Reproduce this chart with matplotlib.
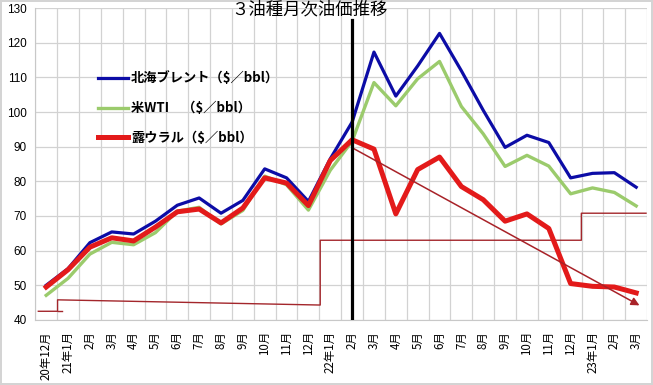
import matplotlib.pyplot as plt
import numpy as np

plt.rcParams['font.family'] = ['Noto Sans CJK JP', 'DejaVu Sans']

# Categories (months)
months = ['20年12月', '21年1月', '2月', '3月', '4月', '5月', '6月', '7月', '8月',
          '9月', '10月', '11月', '12月', '22年1月', '2月', '3月', '4月', '5月',
          '6月', '7月', '8月', '9月', '10月', '11月', '12月', '23年1月', '2月', '3月']

# Monthly prices ($/bbl)
brent = [50.0, 54.8, 62.3, 65.4, 64.8, 68.5, 73.1, 75.2, 70.8, 74.5, 83.6, 81.0,
         74.2, 86.5, 97.1, 117.3, 104.6, 113.3, 122.7, 111.9, 100.5, 89.8, 93.3,
         91.2, 81.0, 82.3, 82.5, 78.3]
wti = [47.1, 52.0, 59.0, 62.4, 61.7, 65.2, 71.4, 72.5, 67.7, 71.6, 81.5, 79.0,
       71.7, 83.2, 91.6, 108.5, 101.8, 109.6, 114.6, 101.6, 93.7, 84.3, 87.5,
       84.4, 76.4, 78.1, 76.8, 72.9]
urals = [49.5, 54.5, 61.0, 63.7, 62.8, 66.8, 71.2, 72.0, 68.0, 72.3, 81.0, 79.5,
         73.0, 86.0, 92.0, 89.3, 70.6, 83.4, 87.0, 78.5, 74.7, 68.5, 70.6, 66.4,
         50.5, 49.7, 49.5, 47.8]

# Hand-drawn step annotation (x in category units, y in $/bbl)
step_x = [-0.36, 0.52, 0.52, 12.54, 12.54, 24.49, 24.49, 27.45]
step_y = [42.5, 42.5, 45.8, 44.3, 63.0, 63.0, 70.8, 70.8]
step_x0 = [0.52, 0.74]
step_y0 = [42.5, 42.5]
trend_start = (14.0, 89.7)
trend_end = (27.15, 44.2)
invasion_x = 14

fig = plt.figure(figsize=(6.53, 3.85), dpi=100)
fig.patch.set_edgecolor('#d4d4d4')
fig.patch.set_linewidth(1.5)
ax = fig.add_axes([0.054, 0.169, 0.937, 0.810])

x = np.arange(len(months))
ax.plot(x, wti, color='#9bcb6c', lw=2.4, zorder=3, label='米WTI　（$／bbl）')
ax.plot(x, brent, color='#0c0ca6', lw=2.3, zorder=4, label='北海ブレント（$／bbl）')
ax.plot(x, urals, color='#e31a1a', lw=3.6, zorder=5, label='露ウラル（$／bbl）')

# annotations
ax.plot(step_x, step_y, color='#a3262b', lw=1.0, zorder=2)
ax.plot(step_x0, step_y0, color='#a3262b', lw=1.0, zorder=2)
ax.annotate('', xy=trend_end, xytext=trend_start,
            arrowprops=dict(arrowstyle='-|>', color='#a82228', lw=1.1,
                            mutation_scale=12, shrinkA=0, shrinkB=0),
            zorder=6)
ax.plot([invasion_x, invasion_x], [40, 126.5], color='black', lw=2.3, zorder=7)

ax.set_xlim(-0.5, len(months) - 0.5)
ax.set_ylim(40, 130)
ax.set_yticks(np.arange(40, 131, 10))
ax.set_xticks(x)
ax.set_xticklabels(months, rotation=90, fontsize=8.3, va='top')
ax.set_xticks(np.arange(-0.5, len(months), 1), minor=True)
ax.tick_params(axis='both', which='both', length=0)
ax.tick_params(axis='y', labelsize=8.5, pad=6)
ax.tick_params(axis='x', pad=8)
for lab in ax.get_yticklabels():
    lab.set_fontfamily('Liberation Sans')

ax.grid(axis='y', which='major', color='#d2d2d2', lw=0.9)
ax.grid(axis='x', which='minor', color='#d2d2d2', lw=0.9)
ax.set_axisbelow(True)
for side in ['top', 'right']:
    ax.spines[side].set_visible(False)
for side in ['left', 'bottom']:
    ax.spines[side].set_color('#c8c8c8')

handles, labels = ax.get_legend_handles_labels()
order = [1, 0, 2]
leg = ax.legend([handles[i] for i in order], [labels[i] for i in order],
                loc='upper left', bbox_to_anchor=(0.083, 0.835), frameon=False,
                handlelength=2.3, handletextpad=0.2, labelspacing=1.2,
                prop={'weight': 'bold', 'size': 9.5})

ax.text(0.448, 0.995, '３油種月次油価推移', transform=ax.transAxes,
        ha='center', va='center', fontsize=12.5, zorder=8)

fig.savefig('out.png', dpi=100)
